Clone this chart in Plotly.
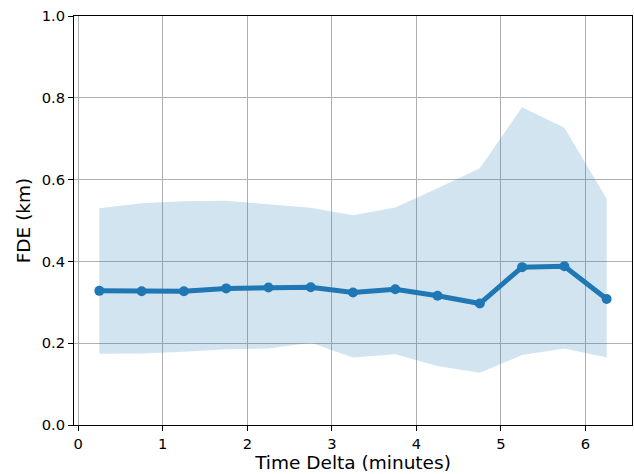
import plotly.graph_objects as go

time_delta = [0.25, 0.75, 1.25, 1.75, 2.25, 2.75, 3.25, 3.75, 4.25, 4.75, 5.25, 5.75, 6.25]
fde_mean = [0.328, 0.327, 0.327, 0.334, 0.336, 0.337, 0.324, 0.332, 0.316, 0.297, 0.386, 0.388, 0.308]
fde_upper = [0.530, 0.542, 0.547, 0.548, 0.540, 0.531, 0.513, 0.532, 0.579, 0.628, 0.777, 0.727, 0.553]
fde_lower = [0.174, 0.175, 0.179, 0.185, 0.187, 0.201, 0.165, 0.173, 0.144, 0.128, 0.171, 0.187, 0.165]

x_ticks = [0, 1, 2, 3, 4, 5, 6]
y_ticks = [0.0, 0.2, 0.4, 0.6, 0.8, 1.0]

blue = "#1f77b4"
font = "DejaVu Sans"

fig = go.Figure()
fig.add_trace(go.Scatter(x=time_delta, y=fde_upper, mode="lines", line=dict(width=0),
                         showlegend=False, hoverinfo="skip"))
fig.add_trace(go.Scatter(x=time_delta, y=fde_lower, mode="lines", line=dict(width=0),
                         fill="tonexty", fillcolor="rgba(31,119,180,0.2)",
                         showlegend=False, hoverinfo="skip"))
fig.add_trace(go.Scatter(x=time_delta, y=fde_mean, mode="lines+markers",
                         line=dict(color=blue, width=5),
                         marker=dict(color=blue, size=10), showlegend=False))

axis_common = dict(
    showline=True, linecolor="black", linewidth=1, mirror=True,
    showgrid=True, gridcolor="#b0b0b0", gridwidth=1,
    ticks="outside", ticklen=5, tickwidth=1, tickcolor="black",
    tickfont=dict(family=font, size=14.7, color="black"),
    zeroline=False, automargin=False,
)

fig.update_xaxes(range=[-0.05, 6.55], tickvals=x_ticks, ticktext=[str(v) for v in x_ticks],
                 title=dict(text="Time Delta (minutes)", font=dict(family=font, size=18.5, color="black"),
                            standoff=2),
                 **axis_common)
fig.update_yaxes(range=[0, 1.0], tickvals=y_ticks, ticktext=[f"{v:.1f}" for v in y_ticks],
                 title=dict(text="FDE (km)", font=dict(family=font, size=18.5, color="black"),
                            standoff=6),
                 **axis_common)

fig.update_layout(
    width=634, height=474,
    margin=dict(l=73.5, r=2, t=16, b=49),
    plot_bgcolor="white", paper_bgcolor="white",
    font=dict(family=font, color="black"),
)

fig.write_html("out.html",
               config={"displayModeBar": False},
               post_script="document.body.style.margin='0';document.body.style.overflow='hidden';")
